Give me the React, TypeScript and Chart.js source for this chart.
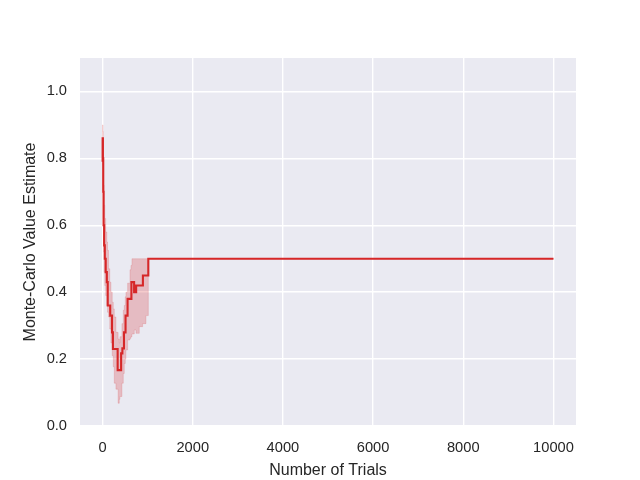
import React, { useEffect, useRef } from "react";
import { Chart, registerables } from "chart.js";

Chart.register(...registerables);

// X positions (trial number) where the mean estimate changes
const meanTrials = [0, 2, 8, 15, 23, 35, 50, 70, 95, 115, 170, 210, 230, 335, 412, 440, 475, 510, 555, 640, 700, 745, 895, 1015, 10000];
const meanValues = [0.79, 0.86, 0.8, 0.7, 0.6, 0.54, 0.5, 0.46, 0.43, 0.36, 0.33, 0.28, 0.23, 0.167, 0.217, 0.232, 0.28, 0.33, 0.38, 0.43, 0.4, 0.42, 0.45, 0.5, 0.5];

// Confidence band
const bandTrials = [0, 2, 8, 15, 23, 35, 50, 70, 95, 111, 133, 160, 186, 215, 238, 260, 297, 345, 371, 386, 430, 460, 482, 504, 519, 556, 608, 630, 652, 704, 741, 815, 889, 963, 1015, 10000];
const upperValues = [0.8, 0.9, 0.88, 0.8, 0.72, 0.66, 0.62, 0.58, 0.55, 0.525, 0.47, 0.43, 0.4, 0.37, 0.35, 0.326, 0.28, 0.26, 0.248, 0.267, 0.306, 0.346, 0.36, 0.386, 0.4, 0.427, 0.467, 0.48, 0.5, 0.5, 0.5, 0.5, 0.5, 0.5, 0.5, 0.5];
const lowerValues = [0.78, 0.8, 0.72, 0.62, 0.52, 0.46, 0.42, 0.39, 0.36, 0.34, 0.326, 0.29, 0.248, 0.21, 0.177, 0.128, 0.11, 0.068, 0.08, 0.088, 0.128, 0.157, 0.187, 0.2, 0.227, 0.257, 0.262, 0.267, 0.275, 0.287, 0.277, 0.297, 0.306, 0.33, 0.5, 0.5];

const xTicks = [0, 2000, 4000, 6000, 8000, 10000];
const yTicks = [0, 0.2, 0.4, 0.6, 0.8, 1.0];

const RED = "rgb(214,39,40)";
const BAND = "rgba(214,39,40,0.24)";
const BAND_EDGE = "rgba(214,39,40,0.15)";
const TEXT = "#262626";
const FONT = "'Liberation Sans', Arial, sans-serif";

const bgPlugin = {
  id: "bg",
  beforeDraw(chart: any) {
    const { ctx, chartArea } = chart;
    ctx.save();
    ctx.fillStyle = "#EAEAF2";
    ctx.fillRect(chartArea.left, chartArea.top, chartArea.right - chartArea.left, chartArea.bottom - chartArea.top);
    ctx.restore();
  },
};

export default function App() {
  const ref = useRef<HTMLCanvasElement>(null);
  useEffect(() => {
    document.body.style.margin = "0";
    const chart = new Chart(ref.current!, {
      type: "line",
      data: {
        datasets: [
          {
            label: "mean",
            data: meanTrials.map((x, i) => ({ x, y: meanValues[i] })),
            borderColor: RED,
            borderWidth: 2.1,
            pointRadius: 0,
            stepped: "before",
            fill: false,
          },
          {
            label: "upper",
            data: bandTrials.map((x, i) => ({ x, y: upperValues[i] })),
            borderColor: BAND_EDGE,
            borderWidth: 1,
            backgroundColor: BAND,
            pointRadius: 0,
            stepped: "before",
            fill: "+1",
          },
          {
            label: "lower",
            data: bandTrials.map((x, i) => ({ x, y: lowerValues[i] })),
            borderColor: BAND_EDGE,
            borderWidth: 1,
            pointRadius: 0,
            stepped: "before",
            fill: false,
          },
        ],
      } as any,
      options: {
        responsive: false,
        animation: false,
        layout: { padding: { left: 0, right: 64, top: 58, bottom: 0 } },
        plugins: { legend: { display: false }, tooltip: { enabled: false } },
        scales: {
          x: {
            type: "linear",
            min: -500,
            max: 10500,
            afterBuildTicks: (s: any) => {
              s.ticks = xTicks.map((v) => ({ value: v }));
            },
            afterFit: (s: any) => {
              s.height = 54;
            },
            grid: { color: "#ffffff", lineWidth: 1.4, drawTicks: false },
            border: { display: false },
            ticks: {
              color: TEXT,
              font: { family: FONT, size: 14.67 },
              padding: 13,
              maxRotation: 0,
              callback: (v: any) => String(v),
            },
            title: {
              display: true,
              text: "Number of Trials",
              color: TEXT,
              font: { family: FONT, size: 16 },
              padding: { top: 8, bottom: 0 },
            },
          },
          y: {
            type: "linear",
            min: 0,
            max: 1.1,
            afterBuildTicks: (s: any) => {
              s.ticks = yTicks.map((v) => ({ value: v }));
            },
            afterFit: (s: any) => {
              s.width = 80;
            },
            grid: { color: "#ffffff", lineWidth: 1.4, drawTicks: false },
            border: { display: false },
            ticks: {
              color: TEXT,
              font: { family: FONT, size: 14.67 },
              padding: 13,
              callback: (v: any) => Number(v).toFixed(1),
            },
            title: {
              display: true,
              text: "Monte-Carlo Value Estimate",
              color: TEXT,
              font: { family: FONT, size: 16 },
              padding: { top: 21, bottom: 0 },
            },
          },
        },
      } as any,
      plugins: [bgPlugin],
    });
    return () => chart.destroy();
  }, []);
  return <canvas ref={ref} width={640} height={480} style={{ display: "block" }} />;
}
